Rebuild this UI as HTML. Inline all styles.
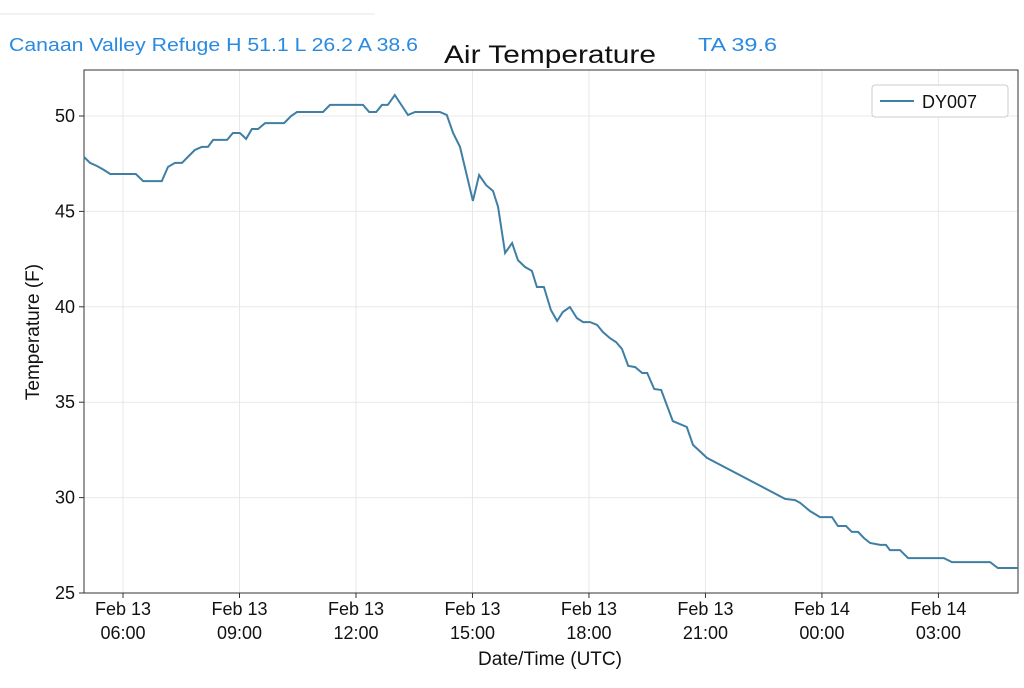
<!DOCTYPE html>
<html><head><meta charset="utf-8"><style>
body{margin:0;background:#fff;width:1024px;height:683px;overflow:hidden;font-family:"Liberation Sans","DejaVu Sans",sans-serif}
</style></head><body>
<svg id="chart" width="1024" height="683" xmlns="http://www.w3.org/2000/svg" font-family="Liberation Sans, DejaVu Sans, sans-serif">
<line x1="0" y1="14" x2="375" y2="14" stroke="#eee" stroke-width="1.5"/>
<text x="9" y="51" font-size="18" fill="#2a8ae0" textLength="409" lengthAdjust="spacingAndGlyphs">Canaan Valley Refuge H 51.1 L 26.2 A 38.6</text>
<text x="698" y="51" font-size="18" fill="#2a8ae0" textLength="79" lengthAdjust="spacingAndGlyphs">TA 39.6</text>
<text x="550" y="63" font-size="25" text-anchor="middle" fill="#111" textLength="212" lengthAdjust="spacingAndGlyphs">Air Temperature</text>
<g id="grid"></g>
<rect x="84" y="70" width="934" height="523" fill="none" stroke="#333" stroke-width="1"/>
<g id="ticks"></g>
<path id="series" fill="none" stroke="#3f7fa4" stroke-width="2"/>
<g>
<rect x="872" y="85" width="136" height="32" rx="3" fill="#fff" stroke="#ccc"/>
<line x1="880" y1="101" x2="914" y2="101" stroke="#3f7fa4" stroke-width="2"/>
<text x="922" y="108" font-size="18" fill="#111">DY007</text>
</g>
<text x="550" y="665" font-size="19" text-anchor="middle" fill="#111">Date/Time (UTC)</text>
<text transform="translate(39,332) rotate(-90)" font-size="19" text-anchor="middle" fill="#111">Temperature (F)</text>
</svg>
<script>
// hours since Feb 13 00:00 UTC
const times=[4.89,4.99,5.15,5.33,5.51,5.67,6.33,6.52,7.0,7.16,7.34,7.52,7.67,7.85,8.03,8.19,8.32,8.68,8.83,9.01,9.17,9.32,9.48,9.66,10.15,10.33,10.48,11.15,11.33,12.18,12.34,12.52,12.67,12.82,13.0,13.34,13.52,14.16,14.34,14.5,14.68,15.01,15.17,15.35,15.53,15.66,15.84,16.02,16.17,16.35,16.53,16.66,16.84,17.02,17.18,17.33,17.51,17.69,17.85,18.03,18.21,18.36,18.54,18.7,18.85,19.01,19.19,19.37,19.5,19.68,19.86,20.16,20.52,20.68,21.04,23.05,23.31,23.44,23.69,23.95,24.26,24.41,24.62,24.77,24.93,25.08,25.24,25.5,25.65,25.75,26.01,26.22,27.14,27.35,28.33,28.53,29.05];
const temps=[47.85,47.85,47.54,47.38,47.17,46.96,46.96,46.59,46.59,47.33,47.54,47.54,47.85,48.22,48.38,48.38,48.75,48.75,49.11,49.11,48.8,49.32,49.32,49.63,49.63,50.0,50.21,50.21,50.58,50.58,50.21,50.21,50.58,50.58,51.1,50.05,50.21,50.21,50.05,49.11,48.38,45.55,46.91,46.38,46.07,45.23,42.82,43.34,42.45,42.09,41.88,41.04,41.04,39.83,39.26,39.73,39.99,39.41,39.2,39.2,39.05,38.68,38.36,38.15,37.79,36.9,36.84,36.53,36.53,35.69,35.64,34.01,33.7,32.76,32.08,29.93,29.87,29.72,29.3,28.98,28.98,28.51,28.51,28.2,28.2,27.88,27.62,27.52,27.52,27.25,27.25,26.83,26.83,26.62,26.62,26.31,26.31];
const yTicks=[25,30,35,40,45,50];
const xTickHours=[6,9,12,15,18,21,24,27];
const xTickDates=["Feb 13","Feb 13","Feb 13","Feb 13","Feb 13","Feb 13","Feb 14","Feb 14"];
const xTickTimes=["06:00","09:00","12:00","15:00","18:00","21:00","00:00","03:00"];
const X=h=>123+(h-6)*38.83;
const Y=t=>593-(t-25)*19.08;
const NS="http://www.w3.org/2000/svg";
const grid=document.getElementById('grid'),ticks=document.getElementById('ticks');
function mk(tag,attrs,parent){const e=document.createElementNS(NS,tag);for(const k in attrs)e.setAttribute(k,attrs[k]);parent.appendChild(e);return e;}
yTicks.forEach(v=>{
  const g=mk('line',{x1:84,x2:1018,y1:Y(v),y2:Y(v),stroke:'#e8e8e8'},grid);
  
  
  mk('line',{x1:79,x2:84,y1:Y(v),y2:Y(v),stroke:'#333'},ticks);
  const t=mk('text',{x:75,y:Y(v)+6,'font-size':18,'text-anchor':'end',fill:'#111'},ticks);
  
  
  t.textContent=v;
});
xTickHours.forEach((h,i)=>{
  const g=mk('line',{x1:X(h),x2:X(h),y1:70,y2:593,stroke:'#e8e8e8'},grid);
  
  
  mk('line',{x1:X(h),x2:X(h),y1:593,y2:598,stroke:'#333'},ticks);
  const t=mk('text',{x:X(h),y:615,'font-size':18,'text-anchor':'middle',fill:'#111'},ticks);
  
  
  t.textContent=xTickDates[i];
  const t2=mk('text',{x:X(h),y:639,'font-size':18,'text-anchor':'middle',fill:'#111'},ticks);
  
  
  t2.textContent=xTickTimes[i];
});
let d='';
times.forEach((h,i)=>{const x=Math.max(84,Math.min(1018,X(h)));d+=(i?'L':'M')+x.toFixed(1)+','+Y(temps[i]).toFixed(1);});
document.getElementById('series').setAttribute('d',d);
</script>
</body></html>
